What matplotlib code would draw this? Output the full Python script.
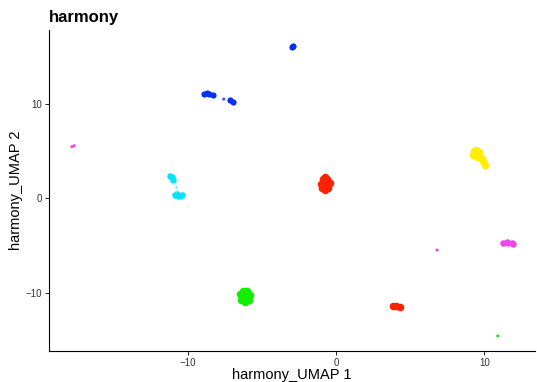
import matplotlib
matplotlib.use("Agg")
import matplotlib.pyplot as plt

plt.rcParams["font.family"] = ["Liberation Sans", "DejaVu Sans"]

# cluster embeddings (harmony_UMAP 1, harmony_UMAP 2), a few points per cluster
red_x = [-0.75, -0.45, -1.05, -0.6, -0.9, -0.55, -0.95, -0.75, -0.75, 3.8, 4.05, 4.3]
red_y = [1.55, 1.6, 1.5, 2.05, 2.0, 1.05, 1.1, 0.85, 2.2, -11.45, -11.45, -11.5]

yellow_x = [9.3, 9.6, 9.2, 9.5, 9.8, 9.9, 10.05, 9.4]
yellow_y = [5.0, 4.9, 4.6, 4.4, 4.3, 3.9, 3.55, 5.15]

blue_x = [-3.0, -2.9, -8.9, -8.6, -8.3, -8.7, -7.2, -6.95]
blue_y = [16.0, 16.1, 11.05, 11.0, 10.95, 11.1, 10.35, 10.15]

cyan_x = [-11.1, -11.0, -11.2, -10.9, -10.6, -10.4, -10.75]
cyan_y = [2.2, 1.95, 2.3, 0.3, 0.25, 0.3, 0.45]
cyan_bridge_x = [-10.95, -10.85, -10.8]
cyan_bridge_y = [1.6, 1.2, 0.8]

green_x = [-6.15, -6.5, -5.8, -6.3, -6.0, -6.4, -5.9, -6.15]
green_y = [-10.35, -10.2, -10.3, -9.8, -9.85, -10.8, -10.8, -10.95]

magenta_x = [11.25, 11.6, 11.95, 11.5, 11.85]
magenta_y = [-4.7, -4.8, -4.9, -4.6, -4.75]

small_x = [-17.85, -17.7, 6.8, 10.9, -7.6]
small_y = [5.45, 5.55, -5.5, -14.6, 10.5]
small_col = ["#f046f0", "#f046f0", "#f046f0", "#22dd22", "#3355ff"]

fig = plt.figure(figsize=(5.37, 3.82), dpi=100)
ax = fig.add_axes([0.091, 0.081, 0.905, 0.84])

ms = 30
ax.scatter(red_x, red_y, s=ms, c="#ff2200", linewidths=0)
ax.scatter(yellow_x, yellow_y, s=ms, c="#ffee00", linewidths=0)
ax.scatter(blue_x, blue_y, s=20, c="#0033ee", linewidths=0)
ax.scatter(cyan_x, cyan_y, s=22, c="#00e5ff", linewidths=0)
ax.scatter(cyan_bridge_x, cyan_bridge_y, s=3, c="#66eeff", linewidths=0)
ax.scatter(green_x, green_y, s=ms, c="#11ee00", linewidths=0)
ax.scatter(magenta_x, magenta_y, s=22, c="#f046f0", linewidths=0)
ax.scatter(small_x, small_y, s=5, c=small_col, linewidths=0)

ax.set_xlim(-19.4, 13.4)
ax.set_ylim(-16.2, 17.8)
ax.set_xticks([-10, 0, 10])
ax.set_yticks([-10, 0, 10])

for side in ["top", "right"]:
    ax.spines[side].set_visible(False)
for side in ["left", "bottom"]:
    ax.spines[side].set_linewidth(0.8)
    ax.spines[side].set_color("black")
ax.tick_params(length=3, width=0.6, labelsize=7, labelcolor="#333333", pad=2)

ax.set_xlabel("harmony_UMAP 1", fontsize=10.5, labelpad=0)
ax.set_ylabel("harmony_UMAP 2", fontsize=10.5, labelpad=2)
ax.set_title("harmony", fontsize=12, fontweight="bold", loc="left", pad=6)

fig.savefig("out.png", dpi=100)
